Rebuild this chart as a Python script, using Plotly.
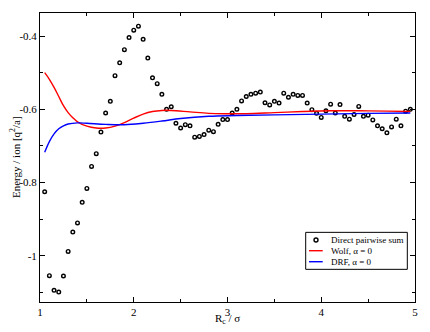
import plotly.graph_objects as go

# Direct pairwise sum (R_c = 1.05 ... 4.95, step 0.05)
rc_direct = [round(1.05 + 0.05 * i, 2) for i in range(79)]
e_direct = [
    -0.825, -1.054, -1.094, -1.099, -1.055, -0.988, -0.935, -0.910, -0.854, -0.816,
    -0.756, -0.721, -0.662, -0.610, -0.578, -0.508, -0.473, -0.437, -0.404, -0.384,
    -0.373, -0.409, -0.460, -0.514, -0.530, -0.559, -0.600, -0.593, -0.638, -0.651,
    -0.642, -0.645, -0.676, -0.674, -0.669, -0.657, -0.661, -0.641, -0.628, -0.628,
    -0.610, -0.600, -0.577, -0.565, -0.559, -0.556, -0.553, -0.582, -0.588, -0.578,
    -0.583, -0.556, -0.567, -0.559, -0.562, -0.562, -0.583, -0.601, -0.611, -0.622,
    -0.604, -0.586, -0.610, -0.587, -0.619, -0.627, -0.614, -0.592, -0.619, -0.616,
    -0.629, -0.645, -0.653, -0.664, -0.648, -0.627, -0.645, -0.605, -0.600,
]

# Wolf, alpha = 0
rc_wolf = [1.05, 1.10, 1.15, 1.20, 1.25, 1.30, 1.35, 1.40, 1.50, 1.60, 1.70, 1.80,
           1.90, 2.00, 2.10, 2.20, 2.30, 2.40, 2.60, 2.80, 3.00, 3.20, 3.50, 3.80,
           4.10, 4.40, 4.70, 4.95]
e_wolf = [-0.500, -0.518, -0.540, -0.565, -0.590, -0.609, -0.623, -0.634, -0.646,
          -0.651, -0.651, -0.646, -0.636, -0.624, -0.613, -0.606, -0.603, -0.603,
          -0.607, -0.611, -0.612, -0.612, -0.609, -0.606, -0.604, -0.604, -0.605,
          -0.606]

# DRF, alpha = 0
rc_drf = [1.05, 1.10, 1.15, 1.20, 1.25, 1.30, 1.40, 1.50, 1.70, 1.90, 2.10, 2.30,
          2.50, 2.80, 3.10, 3.50, 4.00, 4.50, 4.95]
e_drf = [-0.717, -0.688, -0.667, -0.653, -0.645, -0.640, -0.637, -0.638, -0.641,
         -0.642, -0.638, -0.632, -0.625, -0.619, -0.617, -0.615, -0.613, -0.611,
         -0.610]

y_ticks = [-1.0, -0.8, -0.6, -0.4]
y_labels = ["-1", "-0.8", "-0.6", "-0.4"]
x_ticks = [1, 2, 3, 4, 5]
legend_labels = ["Direct pairwise sum", "Wolf, α = 0", "DRF, α = 0"]

font = "Liberation Serif, Times New Roman, serif"

fig = go.Figure()
fig.add_trace(go.Scatter(
    x=rc_direct, y=e_direct, mode="markers", name=legend_labels[0],
    marker=dict(symbol="circle", size=3.6, color="white",
                line=dict(color="black", width=1.4)),
))
fig.add_trace(go.Scatter(
    x=rc_wolf, y=e_wolf, mode="lines", name=legend_labels[1],
    line=dict(color="#ff0000", width=1.4, shape="spline"),
))
fig.add_trace(go.Scatter(
    x=rc_drf, y=e_drf, mode="lines", name=legend_labels[2],
    line=dict(color="#0000ff", width=1.4, shape="spline"),
))

axis_common = dict(
    showline=True, linecolor="black", linewidth=1, mirror="allticks",
    ticks="inside", ticklen=5, tickcolor="black", showgrid=False, zeroline=False,
    tickfont=dict(family=font, size=11, color="black"), automargin=False,
)

fig.update_xaxes(
    range=[1, 5], tickvals=x_ticks,
    minor=dict(ticks="inside", ticklen=3, dtick=0.5, tickcolor="black"),
    **axis_common,
)
fig.update_yaxes(
    range=[-1.126, -0.337], tickvals=y_ticks, ticktext=y_labels,
    minor=dict(ticks="inside", ticklen=3, dtick=0.1, tickcolor="black"),
    **axis_common,
)

# hand-drawn compact legend (xmgrace style), in paper coordinates
shapes = [
    dict(type="rect", xref="paper", yref="paper", x0=0.7085, x1=0.9795,
         y0=0.113, y1=0.241, line=dict(color="black", width=1), fillcolor="white"),
    dict(type="circle", xref="paper", yref="paper", x0=0.7307, x1=0.7413,
         y0=0.2076, y1=0.2214, line=dict(color="black", width=1.4), fillcolor="white"),
    dict(type="line", xref="paper", yref="paper", x0=0.7173, x1=0.7539,
         y0=0.1775, y1=0.1775, line=dict(color="#ff0000", width=1.4)),
    dict(type="line", xref="paper", yref="paper", x0=0.7173, x1=0.7539,
         y0=0.1394, y1=0.1394, line=dict(color="#0000ff", width=1.4)),
]
legend_y = [0.2145, 0.1775, 0.1394]
annotations = [
    dict(text=t, xref="paper", yref="paper", x=0.7707, y=yy, xanchor="left",
         yanchor="middle", showarrow=False, font=dict(family=font, size=9, color="black"))
    for t, yy in zip(legend_labels, legend_y)
]
# axis titles
annotations.append(dict(
    text="R<sub>c</sub> / σ", xref="paper", yref="paper", x=0.5, y=-0.06,
    xanchor="center", yanchor="middle", showarrow=False,
    font=dict(family=font, size=11, color="black"),
))
annotations.append(dict(
    text="Energy / ion [q<sup>2</sup>/a]", xref="paper", yref="paper", x=-0.068, y=0.5,
    xanchor="center", yanchor="middle", textangle=-90, showarrow=False,
    font=dict(family=font, size=11, color="black"),
))

# the page body has an 8px margin, so the figure is sized/offset to compensate
fig.update_layout(
    width=422, height=324,
    margin=dict(l=32, r=15, t=5, b=30, autoexpand=False),
    paper_bgcolor="white", plot_bgcolor="white",
    font=dict(family=font, size=11, color="black"),
    showlegend=False,
    shapes=shapes,
    annotations=annotations,
)

fig.write_html("out.html")
